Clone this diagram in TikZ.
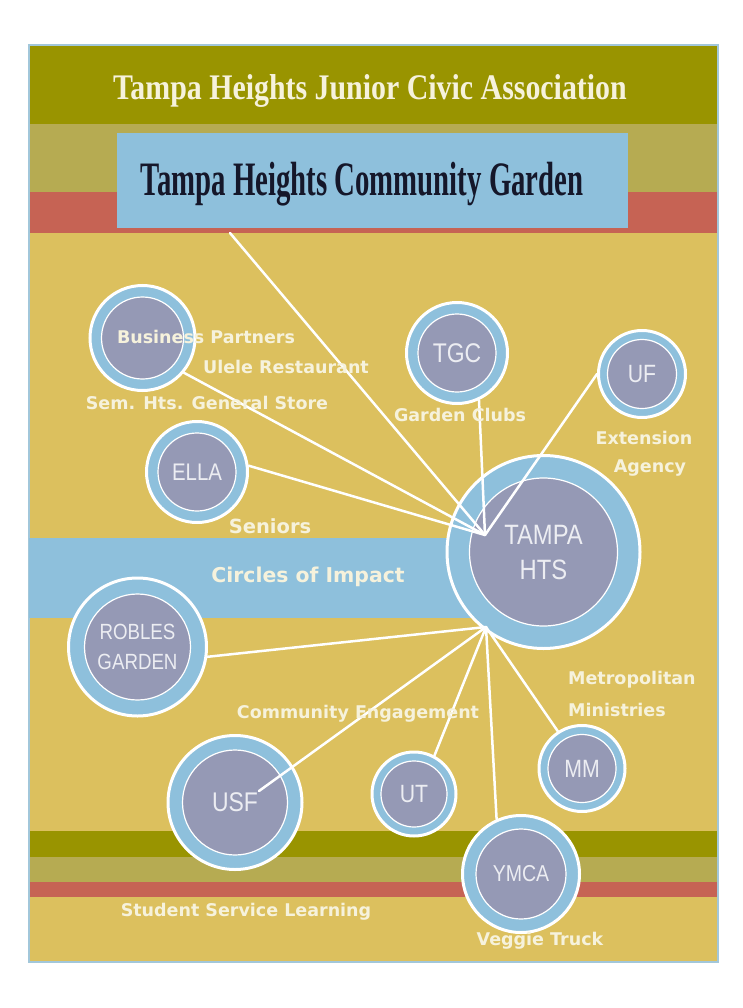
\documentclass[tikz,border=0pt]{standalone}
\usepackage{fontspec}
\newfontfamily\labfont{DejaVu Sans}
\newfontfamily\circfont[FakeStretch=0.85]{Liberation Sans}
\newfontfamily\ttlfont{Liberation Serif}
\definecolor{olive}{HTML}{999400}
\definecolor{khaki}{HTML}{B6AB52}
\definecolor{brick}{HTML}{C66354}
\definecolor{gold}{HTML}{DCC05E}
\definecolor{lblue}{HTML}{8EC0DC}
\definecolor{igrey}{HTML}{9599B5}
\definecolor{framec}{HTML}{A2C7DA}
\definecolor{ctext}{HTML}{ECEDF2}
\definecolor{navy}{HTML}{15172A}
\definecolor{cream}{HTML}{F6F2DC}
\begin{document}
\begin{tikzpicture}[x=1pt,y=-1pt,
  outerc/.style={circle, fill=lblue, draw=white, line width=3pt, inner sep=0pt},
  innerc/.style={circle, fill=igrey, draw=white, line width=1.2pt, inner sep=0pt, text=ctext, align=center},
  cf/.style={font=\circfont\fontsize{#1}{#1}\selectfont},
  lab/.style={text=cream, inner sep=0pt, font=\labfont\bfseries\fontsize{17.5}{20}\selectfont},
  link/.style={draw=white, line width=2.5pt, line cap=round}]
\useasboundingbox (0,0) rectangle (743,1008);
\fill[white] (0,0) rectangle (743,1008);
% frame and bands
\fill[gold] (29,45) rectangle (718,962);
\fill[olive] (29,45) rectangle (718,124);
\fill[khaki] (29,124) rectangle (718,192);
\fill[brick] (29,192) rectangle (718,233);
\fill[olive] (29,831) rectangle (718,857);
\fill[khaki] (29,857) rectangle (718,882);
\fill[brick] (29,882) rectangle (718,897);
\draw[framec, line width=2.5pt] (29,45) rectangle (718,962);
% titles
\node[text=cream, inner sep=0pt] (assoc) at (370,91)
  {\scalebox{0.83}[1]{\ttlfont\bfseries\fontsize{36}{36}\selectfont Tampa Heights Junior Civic Association}};
\node[fill=lblue, minimum width=511pt, minimum height=95pt, inner sep=0pt] (garden) at (372.5,180.5) {};
\node[text=navy, inner sep=0pt] (gardentxt) at (362,184)
  {\scalebox{0.6}[1]{\ttlfont\bfseries\fontsize{48}{48}\selectfont Tampa Heights Community Garden}};
\coordinate (gbot) at (230,233);
% circles of impact band
\fill[lblue] (29,538) rectangle (545,618);
% circles
\node[outerc, minimum size=105pt] (bp) at (142.5,338) {};
\node[innerc, minimum size=82pt] (bpi) at (bp) {};
\node[outerc, minimum size=101pt] (tgc) at (457,353) {};
\node[innerc, cf=27, minimum size=78pt] (tgci) at (tgc) {TGC};
\node[outerc, minimum size=87pt] (uf) at (642,374) {};
\node[innerc, cf=25, minimum size=69pt] (ufi) at (uf) {\raisebox{-4pt}{UF}};
\node[outerc, minimum size=101pt] (ella) at (197,472) {};
\node[innerc, cf=24, minimum size=78pt] (ellai) at (ella) {ELLA};
\node[outerc, minimum size=193pt] (tampa) at (543.5,552) {};
\node[innerc, font=\circfont\fontsize{28}{39}\selectfont, minimum size=148pt] (tampai) at (tampa) {\raisebox{-4pt}{TAMPA}\\HTS};
\node[outerc, minimum size=138pt] (robles) at (137.5,647) {};
\node[innerc, font=\circfont\fontsize{22}{30}\selectfont, minimum size=106pt] (roblesi) at (robles) {ROBLES\\GARDEN};
\node[outerc, minimum size=134pt] (usf) at (235,802.5) {};
\node[innerc, cf=27, minimum size=105pt] (usfi) at (usf) {USF};
\node[outerc, minimum size=84pt] (ut) at (414,794) {};
\node[innerc, cf=25, minimum size=66pt] (uti) at (ut) {UT};
\node[outerc, minimum size=86pt] (mm) at (582,768.5) {};
\node[innerc, cf=25, minimum size=68pt] (mmi) at (mm) {MM};
\node[outerc, minimum size=117pt] (ymca) at (521,874) {};
\node[innerc, cf=23, minimum size=90pt] (ymcai) at (ymca) {YMCA};
% hubs
\coordinate (hubA) at (485,535);
\coordinate (hubB) at (486,627);
\coordinate (usfend) at (259,791);
% links
\draw[link] (gbot) -- (hubA);
\draw[link] (bp.-40) -- (hubA);
\draw[link] (ella.7) -- (hubA);
\draw[link] (tgc.-65) -- (hubA);
\draw[link] (uf.180) -- (hubA);
\draw[link] (robles.-8) -- (hubB);
\draw[link] (usfend) -- (hubB);
\draw[link] (ut.62) -- (hubB);
\draw[link] (ymca.114) -- (hubB);
\draw[link] (mm.123) -- (hubB);
% labels
\node[lab] (l1) at (206,337) {Business Partners};
\node[lab] (l2) at (286,367) {Ulele Restaurant};
\node[lab] (l3) at (207,403) {Sem. Hts. General Store};
\node[lab] (l4) at (460,415) {Garden Clubs};
\node[lab] (l5) at (644,438) {Extension};
\node[lab] (l6) at (650,468) {Agency};
\node[lab, font=\labfont\bfseries\fontsize{19.5}{22}\selectfont] (l7) at (270,526) {Seniors};
\node[lab, font=\labfont\bfseries\fontsize{20.4}{22}\selectfont] (l8) at (308,577) {Circles of Impact};
\node[lab] (l9) at (358,714) {Community Engagement};
\node[lab, anchor=west] (l10) at (568,680) {Metropolitan};
\node[lab, anchor=west] (l11) at (568,710) {Ministries};
\node[lab] (l12) at (246,912) {Student Service Learning};
\node[lab] (l13) at (540,941) {Veggie Truck};
\end{tikzpicture}
\end{document}
